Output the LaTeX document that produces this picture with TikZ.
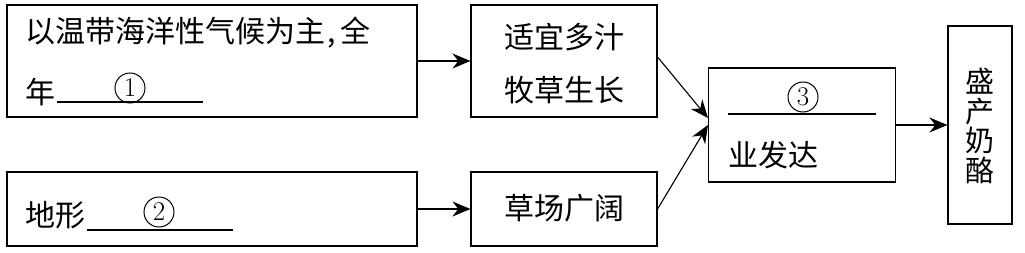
\documentclass[tikz,border=0pt]{standalone}
\usepackage{fontspec}
\newfontfamily\cjk{Noto Sans CJK SC}
\usetikzlibrary{arrows.meta}

\begin{document}
\begin{tikzpicture}[
  x=1pt, y=-1pt,
  box/.style={draw=black, line width=1.1pt, inner sep=0},
  txt/.style={inner sep=0, font=\cjk\fontsize{30}{35}\selectfont},
  numcirc/.style={circle, draw=black, line width=1pt, minimum size=30pt, inner sep=0, font=\fontsize{27}{27}\selectfont},
  blank/.style={line width=1.1pt},
  arr/.style={-{Stealth[length=18pt, width=15pt]}, line width=1.1pt},
]
  \useasboundingbox (0,0) rectangle (1025,252);

  % --- boxes ---
  \node[box, minimum width=410pt, minimum height=112pt] (climate) at (212,61) {};
  \node[box, minimum width=410pt, minimum height=74pt]  (terrain) at (212,209) {};
  \node[box, minimum width=186pt, minimum height=112pt] (grass)   at (564,61) {};
  \node[box, minimum width=186pt, minimum height=74pt]  (pasture) at (564,209) {};
  \node[box, minimum width=187pt, minimum height=114pt] (dairy)   at (802,125) {};
  \node[box, minimum width=64pt,  minimum height=198pt] (cheese)  at (980,125) {};

  % --- climate box text ---
  \node[txt, anchor=west] (climateA) at (25,33) {以温带海洋性气候为主\kern2pt,\kern5pt全};
  \node[txt, anchor=west] (climateB) at (25,92) {年};
  \draw[blank] (57,102) -- (203,102);
  \node[numcirc] (n1) at (130,88) {1};

  % --- terrain box text ---
  \node[txt, anchor=west] (terrainT) at (25,215) {地形};
  \draw[blank] (87,230) -- (233,230);
  \node[numcirc] (n2) at (159,212) {2};

  % --- middle boxes ---
  \node[txt, align=center, font=\cjk\fontsize{30}{53}\selectfont] (grassT) at (564,64) {适宜多汁\\牧草生长};
  \node[txt] (pastureT) at (564,208) {草场广阔};

  % --- dairy box text ---
  \draw[blank] (728,114) -- (876,114);
  \node[numcirc] (n3) at (803,97) {3};
  \node[txt, anchor=west] (dairyT) at (728,155) {业发达};

  % --- cheese box (vertical text) ---
  \node[txt, align=center, font=\cjk\fontsize{29}{29.5}\selectfont] (cheeseT) at (980,126) {盛\\产\\奶\\酪};

  % --- arrows ---
  \draw[arr] (climate.east) -- (grass.west);
  \draw[arr] (terrain.east) -- (pasture.west);
  \draw[arr] ([yshift=4pt]grass.east) -- ([yshift=7pt]dairy.west);
  \draw[arr] (pasture.east) -- (dairy.west);
  \draw[arr] (dairy.east) -- (cheese.west);
\end{tikzpicture}
\end{document}
